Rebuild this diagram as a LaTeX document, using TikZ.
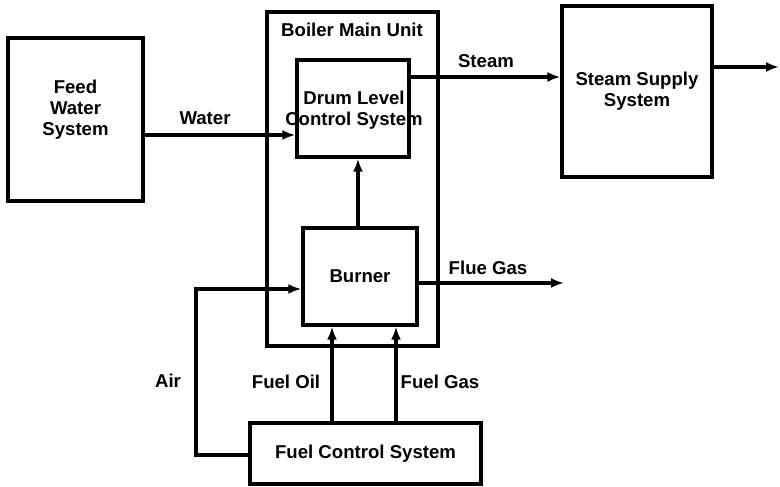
\documentclass[tikz,border=0pt]{standalone}
\usepackage{fontspec}
\setmainfont{Liberation Sans}
\usetikzlibrary{arrows.meta}

\begin{document}
\begin{tikzpicture}[x=1pt,y=-1pt,line width=3.2pt,
  blk/.style={draw, inner sep=0pt},
  txt/.style={font=\fontsize{18.6}{21}\selectfont\bfseries, align=center},
  flow/.style={-{Latex[length=13pt,width=10pt]}}]
   \useasboundingbox (0,0) rectangle (780,487);

   % blocks
   \node[blk, minimum width=135pt, minimum height=163pt] (feed) at (75.5,119.5) {};
   \node[txt] (feedtxt) at (75.5,110) {Feed\\Water\\System};
   \node[blk, minimum width=171pt, minimum height=334pt] (boiler) at (352.5,179) {};
   \node[txt, anchor=north] (boilertxt) at (352,18) {Boiler Main Unit};
   \node[blk, minimum width=112pt, minimum height=97pt] (drum) at (353,108.5) {};
   \node[txt] (drumtxt) at (354,110) {Drum Level\\Control System};
   \node[blk, txt, minimum width=150pt, minimum height=171pt] (supply) at (637,91.5) {Steam Supply\\System};
   \node[blk, txt, minimum width=114pt, minimum height=97pt] (burner) at (360,276.5) {Burner};
   \node[blk, txt, minimum width=231pt, minimum height=61pt] (fuel) at (365.5,453.5) {Fuel Control System};

   % rows and columns of the flows
   \coordinate (wy) at (0,135);
   \coordinate (sy) at (0,77);
   \coordinate (oy) at (0,67);
   \coordinate (out) at (779,67);
   \coordinate (fy) at (0,283);
   \coordinate (flue) at (564,283);
   \coordinate (ay) at (0,289);
   \coordinate (ax) at (196,455);
   \coordinate (ox) at (332,0);
   \coordinate (gx) at (396,0);

   % flows
   \draw[flow] (feed.east |- wy) -- (drum.west |- wy);
   \draw[flow] (drum.east |- sy) -- (supply.west |- sy);
   \draw[flow] (supply.east |- oy) -- (out);
   \draw[flow] (burner.north -| 358,0) -- (drum.south -| 358,0);
   \draw[flow] (burner.east |- fy) -- (flue);
   \draw[flow] (fuel.west |- ax) -- (ax) -- (ax |- ay) -- (burner.west |- ay);
   \draw[flow] (fuel.north -| ox) -- (burner.south -| ox);
   \draw[flow] (fuel.north -| gx) -- (burner.south -| gx);

   % flow labels
   \node[txt] (water) at (205,118) {Water};
   \node[txt] (steam) at (486,61) {Steam};
   \node[txt] (fluegas) at (488,268) {Flue Gas};
   \node[txt] (air) at (168,381) {Air};
   \node[txt] (fueloil) at (286,382) {Fuel Oil};
   \node[txt] (fuelgas) at (440,382) {Fuel Gas};
\end{tikzpicture}
\end{document}
